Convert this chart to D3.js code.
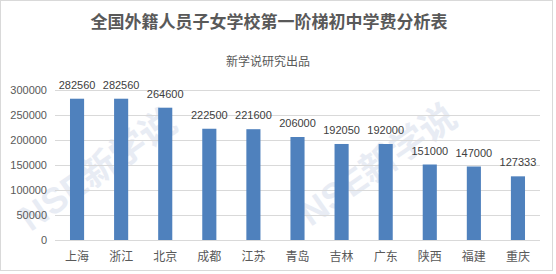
<!DOCTYPE html>
<html>
<head>
<meta charset="utf-8">
<script src="https://cdn.jsdelivr.net/npm/d3@7"></script>
<style>
  body { margin: 0; background: #fff; }
  text { font-family: "Liberation Sans", "Noto Sans CJK SC", sans-serif; }
</style>
</head>
<body>
<div id="chart"></div>
<script>

// data
var cities = ["上海", "浙江", "北京", "成都", "江苏", "青岛", "吉林", "广东", "陕西", "福建", "重庆"];
var fees = [282560, 282560, 264600, 222500, 221600, 206000, 192050, 192000, 151000, 147000, 127333];
var yTicks = [0, 50000, 100000, 150000, 200000, 250000, 300000];

var titleText = "全国外籍人员子女学校第一阶梯初中学费分析表";
var subTitle = "新学说研究出品";

var W = 556, H = 274;
var margin = { top: 90, right: 16, bottom: 34, left: 55 };
var width = W - margin.left - margin.right;
var height = 240 - margin.top;

var svg = d3.select("#chart").append("svg")
    .attr("width", W)
    .attr("height", H);

// outer frame
svg.append("rect")
    .attr("x", 0.5).attr("y", 0.5)
    .attr("width", W - 4).attr("height", H - 4)
    .attr("fill", "#fff")
    .attr("stroke", "#d9d9d9");

// faint watermarks
var marks = [[105, 180], [385, 175]];
marks.forEach(function (m) {
  svg.append("text")
      .attr("transform", "translate(" + m[0] + "," + m[1] + ") rotate(-35)")
      .attr("text-anchor", "middle")
      .attr("fill", "#e8ecf4")
      .style("font-size", "36px")
      .style("font-weight", "bold")
      .text("NSE新学说");
});

svg.append("text")
    .attr("x", 269).attr("y", 28)
    .attr("text-anchor", "middle")
    .attr("fill", "#595959")
    .style("font-family", "'Noto Sans CJK SC', sans-serif")
    .style("font-size", "17px")
    .style("font-weight", "bold")
    .text(titleText);

svg.append("text")
    .attr("x", 268).attr("y", 66)
    .attr("text-anchor", "middle")
    .attr("fill", "#595959")
    .style("font-family", "'Noto Sans CJK SC', sans-serif")
    .style("font-size", "12px")
    .text(subTitle);

var g = svg.append("g")
    .attr("transform", "translate(" + margin.left + "," + margin.top + ")");

var x = d3.scaleBand()
    .domain(cities)
    .range([0, width])
    .paddingInner(0.68)
    .paddingOuter(0.34);

var y = d3.scaleLinear()
    .domain([0, 300000])
    .range([height, 0]);

// gridlines
g.selectAll(".grid")
    .data(yTicks)
    .enter().append("line")
    .attr("class", "grid")
    .attr("x1", 0).attr("x2", width)
    .attr("y1", function (d) { return Math.round(y(d)) + 0.5; })
    .attr("y2", function (d) { return Math.round(y(d)) + 0.5; })
    .attr("stroke", "#d9d9d9");

// y axis labels
var yAxis = d3.axisLeft(y).tickValues(yTicks).tickFormat(d3.format("d")).tickSize(0).tickPadding(8);
g.append("g")
    .attr("class", "axis yAxis")
    .call(yAxis)
    .call(function (a) { a.select(".domain").remove(); })
    .selectAll("text")
    .attr("fill", "#595959")
    .style("font-size", "11px");

// bars
g.selectAll(".bar")
    .data(fees)
    .enter().append("rect")
    .attr("class", "bar")
    .attr("x", function (d, i) { return x(cities[i]); })
    .attr("y", function (d) { return y(d); })
    .attr("width", x.bandwidth())
    .attr("height", function (d) { return height - y(d); })
    .attr("fill", "#4f81bd");

// value labels
g.selectAll(".val")
    .data(fees)
    .enter().append("text")
    .attr("class", "val")
    .attr("x", function (d, i) { return x(cities[i]) + x.bandwidth() / 2; })
    .attr("y", function (d) { return y(d) - 10; })
    .attr("text-anchor", "middle")
    .attr("fill", "#404040")
    .style("font-size", "11px")
    .text(function (d) { return d; });

// x axis
var xAxis = d3.axisBottom(x).tickSize(0).tickPadding(12);
g.append("g")
    .attr("class", "axis xAxis")
    .attr("transform", "translate(0," + height + ")")
    .call(xAxis)
    .call(function (a) {
      a.select(".domain").attr("stroke", "#d9d9d9").attr("d", "M0,0.5H" + width);
    })
    .selectAll("text")
    .attr("fill", "#595959")
    .style("font-family", "'Noto Sans CJK SC', sans-serif")
    .style("font-size", "12px");

</script>
</body>
</html>
